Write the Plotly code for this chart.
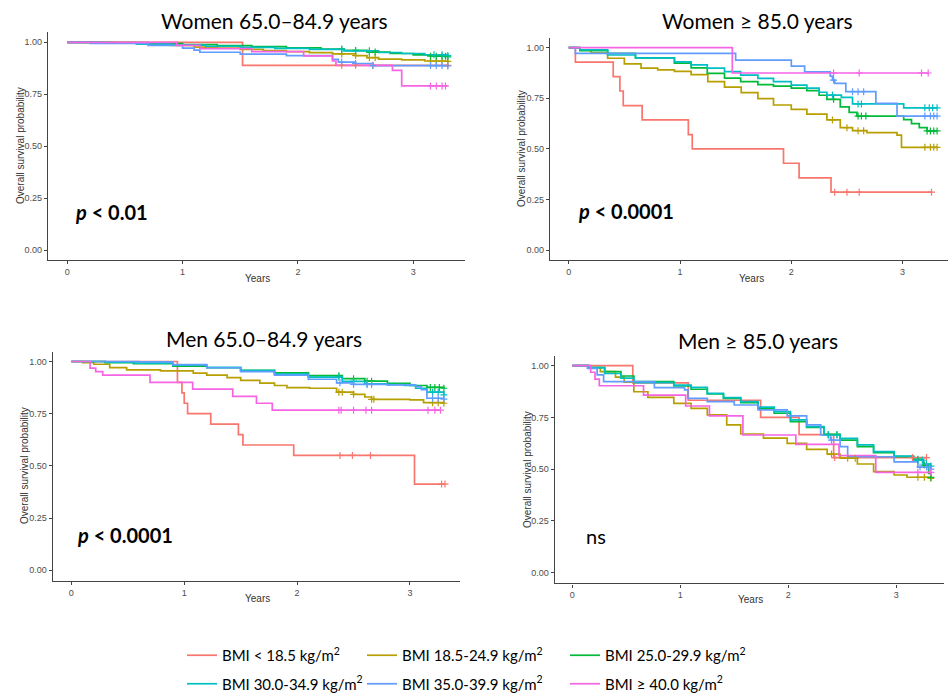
import plotly.graph_objects as go

# ---------------- data ----------------
groups = ["BMI &lt; 18.5 kg/m<sup>2</sup>", "BMI 18.5-24.9 kg/m<sup>2</sup>", "BMI 25.0-29.9 kg/m<sup>2</sup>",
          "BMI 30.0-34.9 kg/m<sup>2</sup>", "BMI 35.0-39.9 kg/m<sup>2</sup>", "BMI ≥ 40.0 kg/m<sup>2</sup>"]
group_keys = ["u185", "n185", "n250", "o300", "o350", "o400"]
colors = ["#F8766D", "#B79F00", "#00BA38", "#00BFC4", "#619CFF", "#F564E3"]
legend_col = ["legend", "legend2", "legend3", "legend", "legend2", "legend3"]

panel_titles = ["Women 65.0–84.9 years", "Women ≥ 85.0 years", "Men 65.0–84.9 years", "Men ≥ 85.0 years"]
panel_pvals = ["<b><i>p</i> &lt; 0.01</b>", "<b><i>p</i> &lt; 0.0001</b>", "<b><i>p</i> &lt; 0.0001</b>", "ns"]
x_ticks = [0, 1, 2, 3]
y_ticks = [0.0, 0.25, 0.5, 0.75, 1.0]

# Women 65.0-84.9
w65_t = {
    "u185": [0, 1.52, 3.30],
    "n185": [0, 0.3, 0.6, 0.9, 1.1, 1.3, 1.5, 1.7, 1.9, 2.1, 2.3, 2.5, 2.6, 2.7, 2.9, 3.1, 3.3],
    "n250": [0, 0.4, 0.7, 1.0, 1.3, 1.6, 1.9, 2.2, 2.4, 2.6, 2.8, 3.0, 3.15, 3.3],
    "o300": [0, 0.3, 0.6, 0.9, 1.2, 1.5, 1.8, 2.1, 2.4, 2.7, 2.9, 3.1, 3.3],
    "o350": [0, 0.2, 0.7, 1.0, 1.1, 1.15, 1.5, 1.9, 2.3, 2.35, 2.5, 2.65, 3.3],
    "o400": [0, 0.95, 1.15, 1.6, 2.05, 2.3, 2.33, 2.82, 2.9, 3.3],
}
w65_s = {
    "u185": [1, 0.889, 0.889],
    "n185": [1, 0.998, 0.995, 0.985, 0.977, 0.972, 0.966, 0.96, 0.955, 0.95, 0.944, 0.936, 0.926, 0.919, 0.915, 0.91, 0.908],
    "n250": [1, 0.998, 0.994, 0.989, 0.984, 0.979, 0.973, 0.967, 0.961, 0.953, 0.946, 0.939, 0.933, 0.93],
    "o300": [1, 0.997, 0.991, 0.986, 0.981, 0.976, 0.971, 0.966, 0.959, 0.951, 0.946, 0.94, 0.936],
    "o350": [1, 0.995, 0.985, 0.972, 0.962, 0.952, 0.943, 0.936, 0.918, 0.905, 0.898, 0.888, 0.886],
    "o400": [1, 0.985, 0.97, 0.955, 0.935, 0.91, 0.889, 0.865, 0.79, 0.79],
}
w65_c = {
    "u185": [2.38, 2.50, 2.65, 3.30],
    "n185": [2.38, 2.5, 2.62, 2.67, 3.15, 3.2, 3.25, 3.3],
    "n250": [2.38, 2.5, 2.62, 2.67, 3.15, 3.2, 3.25, 3.28, 3.3],
    "o300": [2.38, 2.5, 2.62, 3.18, 3.25, 3.3],
    "o350": [2.38, 2.5, 2.65, 3.15, 3.2, 3.25, 3.3],
    "o400": [3.15, 3.2, 3.25, 3.28],
}

# Women >= 85.0
w85_t = {
    "u185": [0, 0.06, 0.40, 0.46, 0.49, 0.66, 1.075, 1.11, 1.93, 2.07, 2.357, 3.26],
    "n185": [0, 0.1, 0.2, 0.35, 0.5, 0.65, 0.8, 0.95, 1.1, 1.25, 1.4, 1.55, 1.7, 1.84, 2.0, 2.14, 2.32, 2.44, 2.55, 2.68, 2.95, 2.99, 3.31],
    "n250": [0, 0.1, 0.35, 0.6, 0.95, 1.1, 1.245, 1.4, 1.545, 1.7, 1.84, 2.0, 2.14, 2.25, 2.32, 2.44, 2.52, 2.59, 3.01, 3.08, 3.15, 3.22, 3.31],
    "o300": [0, 0.1, 0.35, 0.6, 0.95, 1.1, 1.245, 1.4, 1.545, 1.7, 1.84, 2.0, 2.14, 2.25, 2.32, 2.45, 2.55, 3.01, 3.31],
    "o350": [0, 0.06, 1.50, 2.0, 2.12, 2.35, 2.37, 2.39, 2.49, 2.76, 2.95, 3.31],
    "o400": [0, 1.47, 3.23],
}
w85_s = {
    "u185": [1, 0.929, 0.857, 0.786, 0.714, 0.643, 0.571, 0.5, 0.429, 0.357, 0.286, 0.286],
    "n185": [1, 0.99, 0.975, 0.948, 0.92, 0.899, 0.89, 0.883, 0.867, 0.832, 0.805, 0.778, 0.748, 0.717, 0.695, 0.672, 0.643, 0.605, 0.59, 0.58, 0.568, 0.508, 0.508],
    "n250": [1, 0.985, 0.972, 0.95, 0.924, 0.9, 0.873, 0.85, 0.832, 0.818, 0.81, 0.8, 0.788, 0.765, 0.745, 0.708, 0.68, 0.662, 0.645, 0.625, 0.605, 0.589, 0.589],
    "o300": [1, 0.99, 0.964, 0.95, 0.93, 0.915, 0.899, 0.882, 0.865, 0.848, 0.832, 0.815, 0.8, 0.78, 0.766, 0.755, 0.722, 0.703, 0.703],
    "o350": [1, 0.972, 0.939, 0.909, 0.881, 0.86, 0.84, 0.824, 0.783, 0.725, 0.662, 0.662],
    "o400": [1, 0.875, 0.875],
}
w85_c = {
    "u185": [2.39, 2.5, 2.61, 3.26],
    "n185": [2.37, 2.5, 2.6, 2.65, 3.2, 3.25, 3.28, 3.31],
    "n250": [2.38, 2.6, 2.63, 2.67, 3.22, 3.25, 3.28, 3.31],
    "o300": [2.37, 2.6, 2.63, 3.2, 3.24, 3.27, 3.31],
    "o350": [2.38, 2.55, 2.6, 2.65, 3.2, 3.25, 3.28, 3.31],
    "o400": [2.38, 2.61, 3.17, 3.23],
}

# Men 65.0-84.9
m65_t = {
    "u185": [0, 0.94, 0.98, 1.0, 1.03, 1.235, 1.48, 1.52, 1.97, 3.04, 3.31],
    "n185": [0, 0.1, 0.2, 0.34, 0.49, 0.79, 1.08, 1.2, 1.38, 1.5, 1.67, 1.8, 1.91, 2.11, 2.35, 2.5, 2.6, 2.66, 3.0, 3.12, 3.3],
    "n250": [0, 0.3, 0.55, 0.9, 1.2, 1.5, 1.8, 2.1, 2.4, 2.6, 2.8, 3.0, 3.15, 3.3],
    "o300": [0, 0.3, 0.55, 0.9, 1.2, 1.5, 1.8, 2.1, 2.4, 2.6, 2.8, 2.95, 3.05, 3.15, 3.3],
    "o350": [0, 0.6, 0.9, 1.2, 1.5, 1.8, 2.1, 2.35, 2.5, 2.8, 3.05, 3.1, 3.15, 3.3],
    "o400": [0, 0.166, 0.216, 0.278, 0.697, 1.075, 1.43, 1.64, 1.78, 3.27],
}
m65_s = {
    "u185": [1, 0.9, 0.85, 0.8, 0.75, 0.7, 0.65, 0.6, 0.55, 0.413, 0.413],
    "n185": [1, 0.995, 0.987, 0.971, 0.96, 0.955, 0.944, 0.935, 0.923, 0.91, 0.896, 0.885, 0.875, 0.872, 0.853, 0.843, 0.83, 0.819, 0.816, 0.803, 0.8],
    "n250": [1, 0.995, 0.99, 0.978, 0.97, 0.958, 0.946, 0.932, 0.918, 0.906, 0.895, 0.885, 0.876, 0.872],
    "o300": [1, 0.997, 0.992, 0.982, 0.972, 0.956, 0.94, 0.925, 0.905, 0.893, 0.889, 0.885, 0.872, 0.853, 0.84],
    "o350": [1, 0.998, 0.985, 0.97, 0.952, 0.935, 0.915, 0.898, 0.89, 0.888, 0.88, 0.865, 0.824, 0.82],
    "o400": [1, 0.968, 0.952, 0.935, 0.9, 0.868, 0.833, 0.8, 0.767, 0.767],
}
m65_c = {
    "u185": [2.38, 2.49, 2.65, 3.28, 3.31],
    "n185": [2.37, 2.4, 2.5, 2.66, 2.68, 3.2, 3.25, 3.3],
    "n250": [2.37, 2.5, 2.62, 2.66, 3.18, 3.22, 3.26, 3.3],
    "o300": [2.37, 2.5, 2.62, 3.2, 3.25, 3.3],
    "o350": [2.38, 2.5, 2.62, 2.66, 3.2, 3.25, 3.3],
    "o400": [2.37, 2.39, 2.5, 2.61, 2.66, 3.16, 3.22, 3.27],
}

# Men >= 85.0
m85_t = {
    "u185": [0, 0.56, 1.074, 1.744, 2.1, 2.42, 3.28],
    "n185": [0, 0.15, 0.26, 0.4, 0.48, 0.57, 0.7, 0.94, 1.1, 1.25, 1.43, 1.56, 1.77, 1.99, 2.17, 2.36, 2.48, 2.64, 2.79, 2.98, 3.1, 3.32],
    "n250": [0, 0.15, 0.3, 0.45, 0.57, 0.94, 1.1, 1.25, 1.4, 1.56, 1.72, 1.87, 2.02, 2.17, 2.33, 2.48, 2.64, 2.79, 2.98, 3.16, 3.25, 3.3, 3.32],
    "o300": [0, 0.15, 0.3, 0.45, 0.57, 0.94, 1.1, 1.25, 1.4, 1.56, 1.72, 1.87, 2.02, 2.17, 2.33, 2.48, 2.64, 2.79, 2.98, 3.16, 3.25, 3.32],
    "o350": [0, 0.14, 0.23, 0.29, 0.76, 1.04, 1.07, 1.25, 1.5, 1.72, 1.99, 2.17, 2.3, 2.39, 2.48, 2.55, 2.98, 3.2, 3.32],
    "o400": [0, 0.17, 0.21, 0.25, 0.66, 1.05, 1.27, 1.58, 2.07, 2.47, 2.81, 3.32],
}
m85_s = {
    "u185": [1, 0.917, 0.833, 0.75, 0.667, 0.556, 0.556],
    "n185": [1, 0.99, 0.971, 0.945, 0.92, 0.874, 0.847, 0.818, 0.794, 0.762, 0.714, 0.67, 0.65, 0.625, 0.596, 0.573, 0.553, 0.525, 0.488, 0.472, 0.461, 0.456],
    "n250": [1, 0.99, 0.971, 0.95, 0.923, 0.902, 0.886, 0.863, 0.842, 0.821, 0.795, 0.77, 0.73, 0.702, 0.668, 0.64, 0.609, 0.58, 0.561, 0.548, 0.52, 0.48, 0.46],
    "o300": [1, 0.99, 0.962, 0.94, 0.918, 0.906, 0.895, 0.866, 0.846, 0.826, 0.8, 0.778, 0.738, 0.706, 0.665, 0.649, 0.617, 0.585, 0.563, 0.544, 0.525, 0.515],
    "o350": [1, 0.987, 0.955, 0.923, 0.894, 0.883, 0.842, 0.826, 0.81, 0.786, 0.757, 0.714, 0.665, 0.64, 0.609, 0.56, 0.535, 0.51, 0.5],
    "o400": [1, 0.968, 0.935, 0.903, 0.858, 0.805, 0.757, 0.665, 0.62, 0.566, 0.485, 0.485],
}
m85_c = {
    "u185": [2.43, 3.15, 3.28],
    "n185": [2.4, 2.55, 2.62, 3.2, 3.26, 3.32],
    "n250": [2.37, 2.45, 3.2, 3.26, 3.32],
    "o300": [2.37, 2.45, 3.2, 3.24, 3.28, 3.32],
    "o350": [2.4, 3.22, 3.28, 3.32],
    "o400": [3.2, 3.32],
}

panel_data = [(w65_t, w65_s, w65_c), (w85_t, w85_s, w85_c), (m65_t, m65_s, m65_c), (m85_t, m85_s, m85_c)]

# ---------------- layout geometry (pixels) ----------------
W, H = 948, 696
geo = [
    dict(px=(48, 465), py=(32, 260), xr=(-0.167, 3.449), yr=(-0.048, 1.0496),
         title=(274, 20), yt=(20, 146), xt=(257, 278), pv=(73, 212)),
    dict(px=(550, 948), py=(38, 260), xr=(-0.168, 3.408), yr=(-0.049, 1.048),
         title=(757, 20), yt=(522, 149), xt=(751, 278), pv=(576, 211)),
    dict(px=(52.7, 460), py=(351.7, 580.7), xr=(-0.165, 3.443), yr=(-0.05, 1.047),
         title=(264, 339), yt=(24, 466), xt=(257, 598), pv=(75, 535)),
    dict(px=(554.7, 944), py=(355.7, 583.3), xr=(-0.163, 3.442), yr=(-0.051, 1.048),
         title=(758, 340), yt=(527, 470), xt=(750, 599), pv=(584, 536)),
]


def fx(p):
    return p / W


def fy(p):
    return (H - p) / H


def surv_at(ts, ss, c):
    val = ss[0]
    for t, s in zip(ts, ss):
        if t <= c:
            val = s
    return val


fig = go.Figure()
annotations = []
axis_font = dict(family="Liberation Sans, Arial, sans-serif", size=9, color="#4D4D4D")
title_font = dict(family="Lato, sans-serif", size=21, color="#000000")

for i, (tdict, sdict, cdict) in enumerate(panel_data):
    n = "" if i == 0 else str(i + 1)
    xa, ya = "x" + n, "y" + n
    for gi, key in enumerate(group_keys):
        fig.add_trace(go.Scatter(
            x=tdict[key], y=sdict[key], mode="lines", line=dict(color=colors[gi], width=1.7, shape="hv"),
            name=groups[gi], legendgroup=key, legend=legend_col[gi], showlegend=(i == 0),
            xaxis=xa, yaxis=ya, hoverinfo="skip"))
    for gi, key in enumerate(group_keys):
        cx = cdict[key]
        cy = [surv_at(tdict[key], sdict[key], c) for c in cx]
        fig.add_trace(go.Scatter(
            x=cx, y=cy, mode="markers",
            marker=dict(symbol="cross-thin", size=5, line=dict(color=colors[gi], width=1.2)),
            legendgroup=key, showlegend=False, xaxis=xa, yaxis=ya, hoverinfo="skip"))
    g = geo[i]
    common = dict(showline=True, linecolor="#444444", linewidth=1.4, ticks="outside", ticklen=3,
                  tickcolor="#444444", tickwidth=1, showgrid=False, zeroline=False,
                  tickfont=axis_font, fixedrange=True)
    fig.layout["xaxis" + n] = dict(domain=[fx(g["px"][0]), fx(g["px"][1])], range=list(g["xr"]),
                                   anchor=ya, tickvals=x_ticks, **common)
    fig.layout["yaxis" + n] = dict(domain=[fy(g["py"][1]), fy(g["py"][0])], range=list(g["yr"]),
                                   anchor=xa, tickvals=y_ticks, tickformat=".2f", **common)
    annotations.append(dict(text=panel_titles[i], x=fx(g["title"][0]), y=fy(g["title"][1]), xref="paper",
                            yref="paper", xanchor="center", yanchor="middle", showarrow=False, font=title_font))
    annotations.append(dict(text="Years", x=fx(g["xt"][0]), y=fy(g["xt"][1]), xref="paper", yref="paper",
                            xanchor="center", yanchor="middle", showarrow=False,
                            font=dict(family="Liberation Sans, Arial, sans-serif", size=10, color="#333333")))
    annotations.append(dict(text="Overall survival probability", x=fx(g["yt"][0]), y=fy(g["yt"][1]),
                            xref="paper", yref="paper", xanchor="center", yanchor="middle", textangle=-90,
                            showarrow=False,
                            font=dict(family="Liberation Sans, Arial, sans-serif", size=10, color="#333333")))
    annotations.append(dict(text=panel_pvals[i], x=fx(g["pv"][0]), y=fy(g["pv"][1]), xref="paper", yref="paper",
                            xanchor="left", yanchor="middle", showarrow=False,
                            font=dict(family="Lato, sans-serif", size=20, color="#000000")))

leg_common = dict(orientation="v", xanchor="left", yanchor="top", y=fy(639), itemwidth=30,
                  tracegroupgap=6, bgcolor="rgba(0,0,0,0)",
                  font=dict(family="Lato, sans-serif", size=15, color="#000000"))
fig.update_layout(
    width=W, height=H, margin=dict(l=0, r=0, t=0, b=0, autoexpand=False),
    paper_bgcolor="white", plot_bgcolor="white",
    annotations=annotations,
    legend=dict(x=fx(182), **leg_common),
    legend2=dict(x=fx(362), **leg_common),
    legend3=dict(x=fx(565), **leg_common),
)

fig.write_html("out.html")
